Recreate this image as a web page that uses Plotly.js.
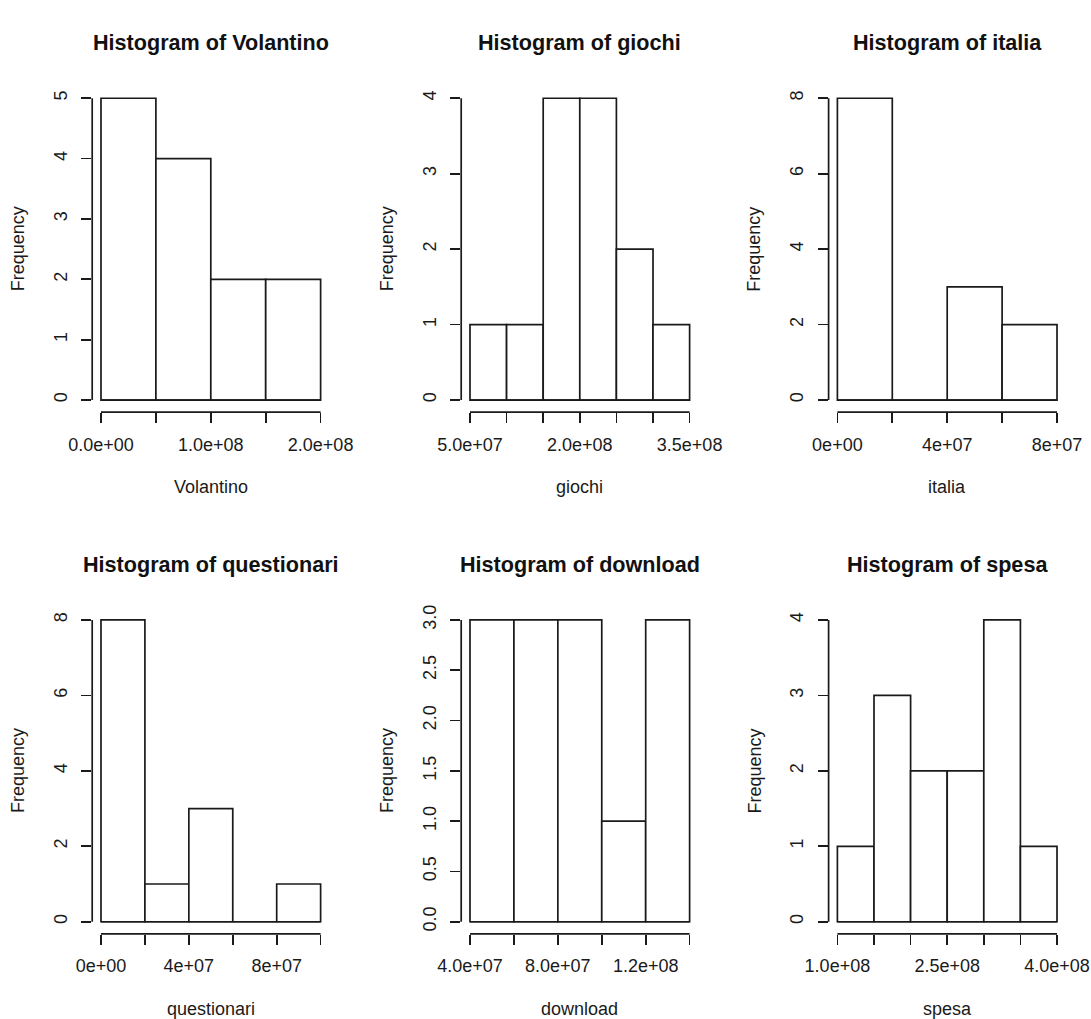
<!DOCTYPE html>
<html>
<head>
<meta charset="utf-8">
<script src="https://cdn.plot.ly/plotly-3.0.1.min.js"></script>
<style>
  html, body { margin: 0; padding: 0; background: #ffffff; }
  #chart { width: 1091px; height: 1019px; }
</style>
</head>
<body>
<div id="chart"></div>
<script>
// ---- Data ----
const variableNames = ['Volantino', 'giochi', 'italia', 'questionari', 'download', 'spesa'];

const volantinoBreaks = [0, 5e7, 1e8, 1.5e8, 2e8];
const volantinoCounts = [5, 4, 2, 2];
const volantinoXTicks = [0, 5e7, 1e8, 1.5e8, 2e8];
const volantinoXLabels = ['0.0e+00', '', '1.0e+08', '', '2.0e+08'];
const volantinoYTicks = [0, 1, 2, 3, 4, 5];
const volantinoYLabels = ['0', '1', '2', '3', '4', '5'];

const giochiBreaks = [5e7, 1e8, 1.5e8, 2e8, 2.5e8, 3e8, 3.5e8];
const giochiCounts = [1, 1, 4, 4, 2, 1];
const giochiXTicks = [5e7, 1e8, 1.5e8, 2e8, 2.5e8, 3e8, 3.5e8];
const giochiXLabels = ['5.0e+07', '', '', '2.0e+08', '', '', '3.5e+08'];
const giochiYTicks = [0, 1, 2, 3, 4];
const giochiYLabels = ['0', '1', '2', '3', '4'];

const italiaBreaks = [0, 2e7, 4e7, 6e7, 8e7];
const italiaCounts = [8, 0, 3, 2];
const italiaXTicks = [0, 2e7, 4e7, 6e7, 8e7];
const italiaXLabels = ['0e+00', '', '4e+07', '', '8e+07'];
const italiaYTicks = [0, 2, 4, 6, 8];
const italiaYLabels = ['0', '2', '4', '6', '8'];

const questionariBreaks = [0, 2e7, 4e7, 6e7, 8e7, 1e8];
const questionariCounts = [8, 1, 3, 0, 1];
const questionariXTicks = [0, 2e7, 4e7, 6e7, 8e7, 1e8];
const questionariXLabels = ['0e+00', '', '4e+07', '', '8e+07', ''];
const questionariYTicks = [0, 2, 4, 6, 8];
const questionariYLabels = ['0', '2', '4', '6', '8'];

const downloadBreaks = [4e7, 6e7, 8e7, 1e8, 1.2e8, 1.4e8];
const downloadCounts = [3, 3, 3, 1, 3];
const downloadXTicks = [4e7, 6e7, 8e7, 1e8, 1.2e8, 1.4e8];
const downloadXLabels = ['4.0e+07', '', '8.0e+07', '', '1.2e+08', ''];
const downloadYTicks = [0, 0.5, 1, 1.5, 2, 2.5, 3];
const downloadYLabels = ['0.0', '0.5', '1.0', '1.5', '2.0', '2.5', '3.0'];

const spesaBreaks = [1e8, 1.5e8, 2e8, 2.5e8, 3e8, 3.5e8, 4e8];
const spesaCounts = [1, 3, 2, 2, 4, 1];
const spesaXTicks = [1e8, 1.5e8, 2e8, 2.5e8, 3e8, 3.5e8, 4e8];
const spesaXLabels = ['1.0e+08', '', '', '2.5e+08', '', '', '4.0e+08'];
const spesaYTicks = [0, 1, 2, 3, 4];
const spesaYLabels = ['0', '1', '2', '3', '4'];

const panels = [
  {breaks: volantinoBreaks, counts: volantinoCounts, xt: volantinoXTicks, xl: volantinoXLabels, yt: volantinoYTicks, yl: volantinoYLabels},
  {breaks: giochiBreaks, counts: giochiCounts, xt: giochiXTicks, xl: giochiXLabels, yt: giochiYTicks, yl: giochiYLabels},
  {breaks: italiaBreaks, counts: italiaCounts, xt: italiaXTicks, xl: italiaXLabels, yt: italiaYTicks, yl: italiaYLabels},
  {breaks: questionariBreaks, counts: questionariCounts, xt: questionariXTicks, xl: questionariXLabels, yt: questionariYTicks, yl: questionariYLabels},
  {breaks: downloadBreaks, counts: downloadCounts, xt: downloadXTicks, xl: downloadXLabels, yt: downloadYTicks, yl: downloadYLabels},
  {breaks: spesaBreaks, counts: spesaCounts, xt: spesaXTicks, xl: spesaXLabels, yt: spesaYTicks, yl: spesaYLabels}
];

// ---- Layout geometry (pixels) ----
const W = 1091, H = 1019;
const colLeft = [92.2, 461.2, 828.6];
const colWidth = 237.2;
const rowTop = [86.2, 607.9];
const rowHeight = 325.9;

const INK = '#1a1a1a';
const LW = 1.7;
const FONT = '"Liberation Sans", Arial, Helvetica, sans-serif';

const traces = [];
const layout = {
  width: W, height: H,
  margin: {l: 0, r: 0, t: 0, b: 0},
  paper_bgcolor: '#ffffff',
  plot_bgcolor: '#ffffff',
  showlegend: false,
  font: {family: FONT, color: INK, size: 18},
  shapes: [],
  annotations: []
};

panels.forEach((p, i) => {
  const k = i === 0 ? '' : String(i + 1);
  const col = i % 3, row = Math.floor(i / 3);
  const lo = p.breaks[0], hi = p.breaks[p.breaks.length - 1];
  const ymax = Math.max(...p.counts);
  const centers = p.counts.map((c, j) => (p.breaks[j] + p.breaks[j + 1]) / 2);
  const widths = p.counts.map((c, j) => p.breaks[j + 1] - p.breaks[j]);

  traces.push({
    type: 'bar', x: centers, y: p.counts, width: widths,
    xaxis: 'x' + k, yaxis: 'y' + k,
    marker: {color: '#ffffff', line: {color: INK, width: LW}},
    hoverinfo: 'skip'
  });
  // baseline of the bars (bottom edges of the rectangles, incl. empty bins)
  traces.push({
    type: 'scatter', mode: 'lines',
    x: [lo, hi], y: [0, 0],
    xaxis: 'x' + k, yaxis: 'y' + k,
    line: {color: INK, width: LW}, hoverinfo: 'skip'
  });

  const xd = [colLeft[col] / W, (colLeft[col] + colWidth) / W];
  const yd = [1 - (rowTop[row] + rowHeight) / H, 1 - rowTop[row] / H];

  layout['xaxis' + k] = {
    domain: xd, anchor: 'y' + k,
    range: [lo - 0.04 * (hi - lo), hi + 0.04 * (hi - lo)],
    showgrid: false, zeroline: false, showline: false,
    tickmode: 'array', tickvals: p.xt, ticktext: p.xl,
    ticks: 'outside', ticklen: 10, tickwidth: LW, tickcolor: INK,
    tickfont: {family: FONT, size: 18, color: INK},
    ticklabelstandoff: 6,
    fixedrange: true
  };
  layout['yaxis' + k] = {
    domain: yd, anchor: 'x' + k,
    range: [-0.04 * ymax, 1.04 * ymax],
    showgrid: false, zeroline: false, showline: false,
    tickmode: 'array', tickvals: p.yt, ticktext: p.yl,
    ticks: 'outside', ticklen: 10, tickwidth: LW, tickcolor: INK,
    tickangle: -90,
    tickfont: {family: FONT, size: 18, color: INK},
    ticklabelstandoff: 7,
    fixedrange: true
  };

  // R-style axis lines spanning first to last tick
  layout.shapes.push({
    type: 'line', xref: 'x' + k, yref: 'y' + k + ' domain',
    x0: p.xt[0], x1: p.xt[p.xt.length - 1], y0: 0, y1: 0,
    line: {color: INK, width: LW}
  });
  layout.shapes.push({
    type: 'line', xref: 'x' + k + ' domain', yref: 'y' + k,
    x0: 0, x1: 0, y0: p.yt[0], y1: p.yt[p.yt.length - 1],
    line: {color: INK, width: LW}
  });

  // main title
  layout.annotations.push({
    xref: 'x' + k + ' domain', yref: 'y' + k + ' domain',
    x: 0.5, y: 1, xanchor: 'center', yanchor: 'middle', yshift: 43.5,
    text: '<b>Histogram of ' + variableNames[i] + '</b>', showarrow: false,
    font: {family: FONT, size: 21.6, color: '#111'}
  });
  // x-axis title
  layout.annotations.push({
    xref: 'x' + k + ' domain', yref: 'y' + k + ' domain',
    x: 0.5, y: 0, xanchor: 'center', yanchor: 'middle', yshift: -75,
    text: variableNames[i], showarrow: false,
    font: {family: FONT, size: 18, color: INK}
  });
  // y-axis title
  layout.annotations.push({
    xref: 'x' + k + ' domain', yref: 'y' + k + ' domain',
    x: 0, y: 0.5, xanchor: 'center', yanchor: 'middle', xshift: -74,
    textangle: -90,
    text: 'Frequency', showarrow: false,
    font: {family: FONT, size: 18, color: INK}
  });
});

Plotly.newPlot('chart', traces, layout, {staticPlot: true, displayModeBar: false});
</script>
</body>
</html>
